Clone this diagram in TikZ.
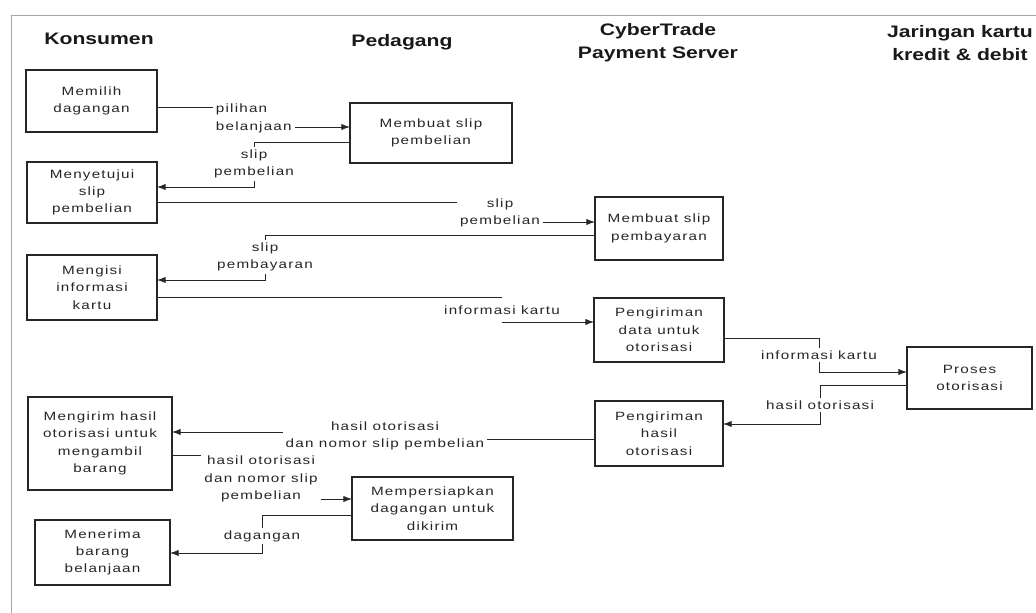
\documentclass[tikz,border=0pt]{standalone}
\usepackage{fontspec}
\usetikzlibrary{arrows.meta}
\newfontfamily\boxfont{Liberation Sans}[FakeStretch=1.27,LetterSpace=10]
\newfontfamily\headfont{Liberation Sans}[FakeStretch=1.27]

\begin{document}
\begin{tikzpicture} [x=0.75pt, y=-0.75pt, >={Latex[length=6.5pt,width=4.8pt]},
    box/.style={draw=black!85, line width=0.8pt, align=center, inner sep=2pt, outer sep=0pt,
        font=\boxfont\fontsize{9}{13}\selectfont, text=black!85},
    lbl/.style={align=center, inner xsep=2pt, inner ysep=1.5pt,
        font=\boxfont\fontsize{9}{13}\selectfont, text=black!85},
    head/.style={align=center, font=\headfont\bfseries\fontsize{12.5}{17}\selectfont, text=black!90},
    flow/.style={draw=black!85, line width=0.7pt}]
    \useasboundingbox (0,0) rectangle (1036,613);

    % frame of the scan
    \draw[gray!70, line width=0.6pt] (1036,15) -- (11,15) -- (11,613);

    % lane headers
    \node[head] (konsumen) at (99,39) {Konsumen};
    \node[head] (pedagang) at (402,42) {Pedagang};
    \node[head] (server) at (658,43) {CyberTrade\\Payment Server};
    \node[head] (jaringan) at (960,43) {Jaringan kartu\\kredit \& debit};

    % process boxes
    \node[box, minimum width=98.25pt, minimum height=46.5pt] (memilih) at (91.5,101) {Memilih\\dagangan};
    \node[box, minimum width=121.5pt, minimum height=45pt] (slipbeli) at (431,133) {Membuat slip\\pembelian};
    \node[box, minimum width=97.5pt, minimum height=45.75pt] (setuju) at (92,192.5) {Menyetujui\\slip\\pembelian};
    \node[box, minimum width=96pt, minimum height=47.25pt] (slipbayar) at (659,228.5) {Membuat slip\\pembayaran};
    \node[box, minimum width=97.5pt, minimum height=48.75pt] (isi) at (92,287.5) {Mengisi\\informasi\\kartu};
    \node[box, minimum width=97.5pt, minimum height=48pt] (kirimdata) at (659,330) {Pengiriman\\data untuk\\otorisasi};
    \node[box, minimum width=93.75pt, minimum height=46.5pt] (proses) at (969.5,378) {Proses\\otorisasi};
    \node[box, minimum width=96pt, minimum height=48.75pt] (kirimhasil) at (659,433.5) {Pengiriman\\hasil\\otorisasi};
    \node[box, minimum width=108pt, minimum height=69.75pt] (ambil) at (100,443.5) {Mengirim hasil\\otorisasi untuk\\mengambil\\barang};
    \node[box, minimum width=120.75pt, minimum height=47.25pt] (siapkan) at (432.5,508.5) {Mempersiapkan\\dagangan untuk\\dikirim};
    \node[box, minimum width=101.25pt, minimum height=48.75pt] (terima) at (102.5,552.5) {Menerima\\barang\\belanjaan};

    % labels on the flows
    \node[lbl, align=left, anchor=west] (pilihan) at (213,118.5) {pilihan\\belanjaan};
    \node[lbl] (slip1) at (254,164) {slip\\pembelian};
    \node[lbl] (slip2) at (500,213) {slip\\pembelian};
    \node[lbl] (slip3) at (265,257) {slip\\pembayaran};
    \node[lbl] (info1) at (502,310) {informasi kartu};
    \node[lbl] (info2) at (819,355) {informasi kartu};
    \node[lbl] (hasil1) at (820,405) {hasil otorisasi};
    \node[lbl] (hasil2) at (385,436) {hasil otorisasi\\dan nomor slip pembelian};
    \node[lbl] (hasil3) at (261,479) {hasil otorisasi\\dan nomor slip\\pembelian};
    \node[lbl] (barang) at (262,536) {dagangan};

    % konsumen <-> pedagang
    \draw[flow] (memilih.east |- 0,107) -- (pilihan.west |- 0,107);
    \draw[flow,->] (pilihan.east |- 0,127) -- (slipbeli.west |- 0,127);
    \draw[flow] (slipbeli.west |- 0,142) -| (slip1.north);
    \draw[flow,->] (slip1.south) |- (setuju.east |- 0,187);

    % konsumen <-> payment server
    \draw[flow] (setuju.east |- 0,202) -- (slip2.west |- 0,202);
    \draw[flow,->] (slip2.east |- 0,222) -- (slipbayar.west |- 0,222);
    \draw[flow] (slipbayar.west |- 0,235) -| (slip3.north);
    \draw[flow,->] (slip3.south) |- (isi.east |- 0,280);
    \draw[flow] (isi.east |- 0,297) -- (info1 |- 0,297);
    \draw[flow,->] (info1 |- 0,322) -- (kirimdata.west |- 0,322);

    % payment server <-> jaringan
    \draw[flow] (kirimdata.east |- 0,338) -| (info2.north);
    \draw[flow,->] (info2.south) |- (proses.west |- 0,372);
    \draw[flow] (proses.west |- 0,385) -| (hasil1.north);
    \draw[flow,->] (hasil1.south) |- (kirimhasil.east |- 0,424);

    % back to konsumen, then pedagang
    \draw[flow] (kirimhasil.west |- 0,439) -- (hasil2.east |- 0,439);
    \draw[flow,->] (hasil2.west |- 0,432) -- (ambil.east |- 0,432);
    \draw[flow] (ambil.east |- 0,455) -- (hasil3.west |- 0,455);
    \draw[flow,->] (hasil3.east |- 0,499) -- (siapkan.west |- 0,499);
    \draw[flow] (siapkan.west |- 0,515) -| (barang.north);
    \draw[flow,->] (barang.south) |- (terima.east |- 0,553);

\end{tikzpicture}
\end{document}
